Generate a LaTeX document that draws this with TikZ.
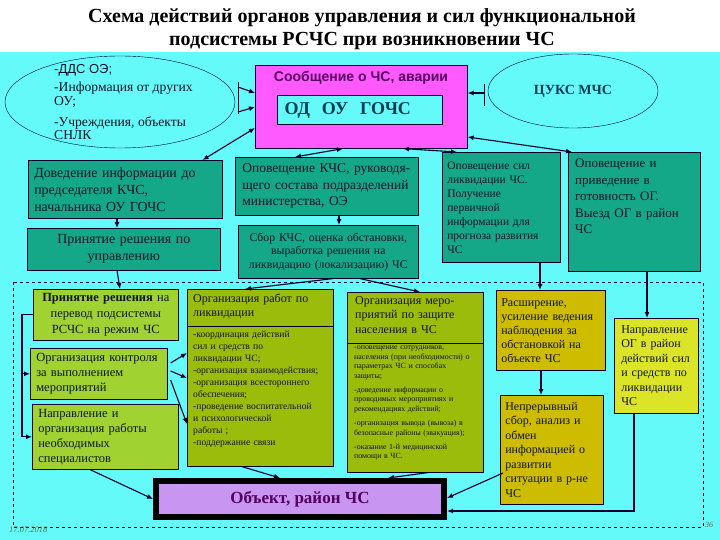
\documentclass[tikz,border=0pt]{standalone}
\usepackage{fontspec}
\setmainfont{Liberation Serif}
\newfontfamily\arialfont{Liberation Sans}
\usetikzlibrary{shapes.geometric,calc,arrows.meta}

\definecolor{cbg}{RGB}{100,250,250}
\definecolor{cmag}{RGB}{255,90,255}
\definecolor{cteal}{RGB}{20,168,136}
\definecolor{clime}{RGB}{160,210,50}
\definecolor{colive}{RGB}{155,188,10}
\definecolor{cocher}{RGB}{205,188,0}
\definecolor{cyell}{RGB}{220,228,40}
\definecolor{clav}{RGB}{200,150,240}
\definecolor{cline}{RGB}{0,0,45}
\definecolor{ctext}{RGB}{15,20,35}
\definecolor{cpurp}{RGB}{85,0,95}
\definecolor{cdteal}{RGB}{0,60,80}
\definecolor{cdate}{RGB}{110,110,50}

\newcommand{\jline}[1]{\makebox[\hsize][s]{#1}}
\newcommand{\fs}[2]{\fontsize{#1}{#2}\selectfont}

\tikzset{
  box/.style={draw=cline, line width=0.6pt, anchor=north west, inner xsep=6pt, inner ysep=2pt, text=ctext},
  tbox/.style={box, fill=cteal},
  lbox/.style={box, fill=clime},
  obox/.style={box, fill=colive},
  ybox/.style={box, fill=cocher},
  yybox/.style={box, fill=cyell},
  txt/.style={anchor=north west, inner sep=0pt, align=left, text=ctext},
  arr/.style={draw=cline, line width=1.1pt, -{Latex[length=6pt,width=5pt]}},
  darr/.style={draw=cline, line width=1.1pt, {Latex[length=6pt,width=5pt]}-{Latex[length=6pt,width=5pt]}},
}

\begin{document}
\begin{tikzpicture}[x=1pt,y=-1pt]
\useasboundingbox (0,0) rectangle (720,540);
\fill[cbg] (0,52) rectangle (720,540);

% title
\node (title) at (362,29) [align=center, font=\fs{20}{23}\bfseries] {Схема действий органов управления и сил функциональной\\подсистемы РСЧС при возникновении ЧС};

% top row
\node (lell) at (120,102) [ellipse, draw=cline, fill=cbg, minimum width=230, minimum height=92] {};
\node (lellt) at (54,64) [txt, font=\fs{13.6}{13.6}] {{\arialfont\fs{13}{13.6}-ДДС ОЭ;}\\[5pt]-Информация от других\\ОУ;\\[7pt]-Учреждения, объекты\\СНЛК};
\node (msg) at (255,65) [box, fill=cmag, minimum width=212, minimum height=83] {};
\node (msgt) at (361,78) [font=\arialfont\bfseries\fs{14}{15}, text=cpurp] {Сообщение о ЧС, аварии};
\node (odou) at (277,95) [box, fill=cbg, line width=1pt, minimum width=165, minimum height=29, text width=151, align=left, inner xsep=7pt, font=\fs{18}{20}\bfseries, text=cdteal] {ОД\ \ ОУ\ \ ГОЧС};
\node (cuks) at (573,91) [ellipse, draw=cline, fill=cbg, minimum width=170, minimum height=74, font=\fs{14}{16}\bfseries, text=cdteal] {ЦУКС МЧС};
\coordinate (lb1) at (238,87);
\coordinate (lb2) at (238,112);
\coordinate (rb) at (484,93);
\draw[cline, line width=1pt] (238,82) -- (238,114);
\draw[cline, line width=1pt] (484,84) -- (484,106);

% second row
\node (dov) at (28,160) [tbox, minimum width=194, minimum height=58, text width=182, align=left, font=\fs{13.9}{17}] {Доведение информации до\\председателя КЧС,\\начальника ОУ ГОЧС};
\node (prin) at (27,228) [tbox, minimum width=193, minimum height=42, text width=181, align=center, font=\fs{13.9}{17}] {Принятие решения по\\управлению};
\node (opkchs) at (235,157) [tbox, minimum width=183, minimum height=58, text width=169, inner xsep=7pt, align=left, font=\fs{13.5}{16.5}] {\jline{Оповещение КЧС, руководя-}\\\jline{щего состава подразделений}\\министерства, ОЭ};
\node (sbor) at (238,225) [tbox, minimum width=180, minimum height=53, text width=168, align=center, font=\fs{11.7}{13.5}] {Сбор КЧС, оценка обстановки,\\выработка решения на\\ликвидацию (локализацию) ЧС};
\node (opsil) at (442,152) [tbox, minimum width=118, minimum height=110, text width=108, inner xsep=5pt, align=left, font=\fs{11.5}{14}] {Оповещение сил\\ликвидации ЧС.\\Получение\\первичной\\информации для\\прогноза развития\\ЧС};
\node (opog) at (568,152) [tbox, minimum width=132, minimum height=119] {};
\node (opogt) at (575,159) [txt, text width=118, font=\fs{13}{16.5}] {\jline{Оповещение и}\\\jline{приведение в}\\\jline{готовность ОГ.}\\\jline{Выезд ОГ в район}\\ЧС};

% dashed frame
\draw[cline, dashed, line width=0.6pt] (13,282) rectangle (703,527);

% bottom left column
\node (perev) at (33,289) [lbox, minimum width=145, minimum height=51, text width=133, align=center, font=\fs{12.5}{16}] {\textbf{Принятие решения} на\\перевод подсистемы\\РСЧС на режим ЧС};
\node (kontr) at (30,348) [lbox, minimum width=137, minimum height=51, text width=125, align=left, font=\fs{12.5}{15}] {Организация контроля\\за выполнением\\мероприятий};
\node (naprs) at (32,404) [lbox, minimum width=146, minimum height=65, text width=134, align=left, font=\fs{12.5}{15}] {Направление и\\организация работы\\необходимых\\специалистов};

% liquidation work
\node (orgr) at (187,289) [obox, minimum width=146, minimum height=177] {};
\draw[cline, line width=0.6pt] ($(orgr.north west)+(0,37)$) -- ($(orgr.north east)+(0,37)$);
\node (orgrt) at (193,294) [txt, text width=134, font=\fs{12}{14}] {\jline{Организация работ по}\\ликвидации};
\node (orgrb) at (193,331) [txt, text width=138, font=\fs{9.6}{12}] {-координация действий\\сил и средств по\\ликвидации ЧС;\\-организация взаимодействия;\\-организация всестороннего\\обеспечения;\\-проведение воспитательной\\и психологической\\работы ;\\-поддержание связи};

% population protection
\node (orgm) at (347,292) [obox, minimum width=136, minimum height=180] {};
\draw[cline, line width=0.6pt] ($(orgm.north west)+(0,51)$) -- ($(orgm.north east)+(0,51)$);
\node (orgmt) at (355,296) [txt, text width=124, font=\fs{12}{14.5}] {Организация меро-\\приятий по защите\\населения в ЧС};
\node (orgmb) at (354,346) [txt, text width=128, font=\fs{7.9}{9.4}] {-оповещение сотрудников,\\населения (при необходимости) о\\параметрах ЧС и способах\\защиты;\\[5pt]-доведение информации о\\проводимых мероприятиях и\\рекомендациях действий;\\[5pt]-организация вывода (вывоза) в\\безопасные районы (эвакуация);\\[5pt]-оказание 1-й медицинской\\помощи в ЧС.};

% object
\node (obj) at (300,499) [draw=black, line width=6pt, fill=clav, minimum width=288, minimum height=36, font=\fs{17}{19}\bfseries, text=cpurp] {Объект, район ЧС};

% right column
\node (rassh) at (496,290) [ybox, minimum width=109, minimum height=80, text width=99, inner xsep=5pt, align=left, font=\fs{12}{14}] {Расширение,\\усиление ведения\\наблюдения за\\обстановкой на\\объекте ЧС};
\node (nepr) at (500,395) [ybox, minimum width=103, minimum height=109, text width=93, inner xsep=5pt, align=left, font=\fs{12}{14.5}] {Непрерывный\\сбор, анализ и\\обмен\\информацией о\\развитии\\ситуации в р-не\\ЧС};
\node (napog) at (614,318) [yybox, minimum width=84, minimum height=95, text width=70, inner xsep=7pt, align=left, font=\fs{12}{14.5}] {Направление\\ОГ в район\\действий сил\\и средств по\\ликвидации\\ЧС};

% footer
\node (date) at (9,530) [anchor=west, inner sep=0pt, font=\fs{8.5}{9}\itshape, text=cdate] {17.07.2018};
\node (page) at (709,525) [inner sep=0pt, font=\fs{8}{9}\itshape, text=cdate] {36};

% arrows, top
\draw[arr] (lb1) -- ($(msg.north west)+(0,28)$);
\draw[arr] (lb2) -- ($(msg.north west)+(0,42)$);
\draw[arr] (rb) -- ($(msg.north east)+(0,28)$);
\draw[darr] ($(dov.north east)+(-20,0)$) -- ($(msg.north west)+(0,63)$);
\draw[darr] ($(msg.north east)+(0,72)$) -- ($(opog.north west)+(4,0)$);
\draw[darr] ($(msg.south west)+(88,0)$) -- ($(opkchs.north west)+(60,0)$);
\draw[darr] ($(msg.south west)+(148,0)$) -- ($(opsil.north west)+(15,0)$);

% arrows, middle
\draw[arr] ($(dov.south west)+(89,0)$) -- ($(prin.north west)+(90,0)$);
\draw[arr] ($(opkchs.south west)+(104,0)$) -- ($(sbor.north west)+(101,0)$);
\draw[arr] ($(prin.south west)+(90,0)$) -- ($(perev.north west)+(87,0)$);
\draw[arr] ($(sbor.south west)+(95,0)$) -- ($(orgr.north west)+(58,0)$);
\draw[arr] ($(sbor.south west)+(122,0)$) -- ($(orgm.north west)+(73,0)$);
\draw[arr] ($(opsil.south west)+(98,0)$) -- ($(rassh.north west)+(44,0)$);
\draw[arr, line width=1.8pt] ($(opog.south west)+(79,0)$) -- ($(napog.north west)+(33,0)$);

% arrows, bottom
\coordinate (brk) at (22,300);
\draw[arr] (perev.west) -- (perev.west -| brk) |- (naprs.west);
\draw[arr] (kontr.west -| brk) -- (kontr.west);
\draw[arr] ($(kontr.north east)+(3,15)$) -- ($(orgr.north west)+(0,64)$);
\draw[arr] ($(kontr.north east)+(3,23)$) -- ($(orgr.north west)+(0,89)$);
\draw[arr] ($(kontr.north east)+(3,32)$) -- ($(orgr.north west)+(0,135)$);
\draw[arr] ($(naprs.south west)+(58,0)$) -- (obj.west);
\draw[arr] ($(orgr.south west)+(55,0)$) -- ($(obj.north west)+(127,0)$);
\draw[arr] ($(orgm.south west)+(81,0)$) -- ($(obj.north west)+(235,0)$);
\draw[arr] ($(rassh.south west)+(45,0)$) -- ($(nepr.north west)+(41,0)$);
\draw[arr] ($(nepr.north west)+(3,78)$) -- ($(obj.east)+(0,-1)$);
\draw[arr, line width=1.8pt] ($(napog.south west)+(20,0)$) |- ($(obj.east)+(0,12)$);
\end{tikzpicture}
\end{document}
